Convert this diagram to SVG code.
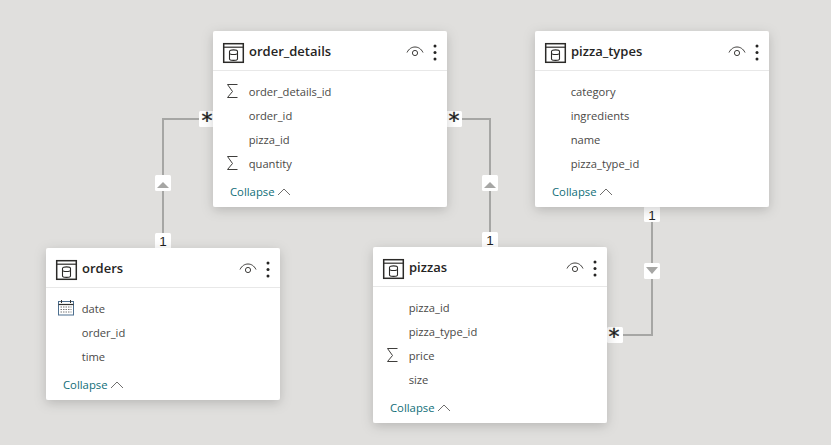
<svg xmlns="http://www.w3.org/2000/svg" width="831" height="445" viewBox="0 0 831 445">
<style>
text{font-family:"Open Sans","Noto Sans","Liberation Sans",sans-serif}
.card{fill:#fff;filter:url(#sh)}
.hl{stroke:#e8e8e8;stroke-width:1;fill:none}
.title{font-size:13px;font-weight:600;fill:#252423}
.f{font-size:11.2px;fill:#4a4947}
.col{font-size:11.300px;fill:#0f6e78}
.ln{stroke:#a6a6a4;stroke-width:2;fill:none}
.bx{fill:#fff}
.one{font-family:"Liberation Sans",sans-serif;font-size:13.500px;fill:#1f1f1f;text-anchor:middle}
.star{font-family:"DejaVu Sans",sans-serif;font-size:22px;fill:#1f1f1f;stroke:#1f1f1f;stroke-width:0.400;text-anchor:middle}
.ic{fill:none;stroke:#2b2a28;stroke-width:1.500}
.ic2{fill:none;stroke:#3f3e3c;stroke-width:1}
.tri{fill:#a6a6a4}
</style>
<defs>
<filter id="sh" x="-15%" y="-15%" width="130%" height="135%"><feDropShadow dx="0" dy="3" stdDeviation="6" flood-color="#000" flood-opacity="0.18"/></filter>
<g id="tbl"><rect class="ic" x="0.700" y="0.700" width="19.600" height="18.600"/><path class="ic" d="M0.700 4.200H20.300" style="stroke-width:1.200"/><path class="ic" style="stroke-width:1.100" d="M6.500 8.500a4 1.600 0 0 1 8 0v7.500a4 1.400 0 0 1-8 0zM6.500 10a4 1.500 0 0 0 8 0"/></g>
<g id="eye"><path class="ic2" d="M0 7.500C2 3.500 5 2 8 2s6 1.500 8 5.500"/><circle class="ic2" cx="8" cy="8" r="2.600"/></g>
<g id="dots"><circle cx="0" cy="0" r="1.500" fill="#252423"/><circle cx="0" cy="6.500" r="1.500" fill="#252423"/><circle cx="0" cy="13" r="1.500" fill="#252423"/></g>
<path id="sig" class="ic2" d="M10.500 0.500H0.500L5.500 7.500L0.500 13.500H10.500"/>
<path id="chev" d="M0 7L6 1L12 7" fill="none" stroke="#5f5e5c" stroke-width="0.900"/>
<g id="cal"><rect x="0.500" y="1.500" width="15" height="13.500" fill="none" stroke="#4d6f8f"/><path d="M0.500 4.500H15.500" stroke="#33322f" stroke-width="1.200"/><path d="M3.500 0V3M12.500 0V3" stroke="#33322f"/><path d="M2.500 7H13.500M2.500 9.500H13.500M2.500 12H13.500" stroke="#777" stroke-dasharray="1.500 1"/></g>
</defs>
<rect width="831" height="445" fill="#e0dfdd"/>
<g id="connectors">
<path class="ln" d="M200 119H163V236"/>
<path class="ln" d="M460 119H490V236"/>
<path class="ln" d="M652 220V335H621"/>
<rect class="bx" x="155" y="175" width="16" height="16" rx="1.500"/><path class="tri" d="M157 188L163 182L169 188Z"/>
<rect class="bx" x="482" y="175" width="16" height="16" rx="1.500"/><path class="tri" d="M484 188L490 182L496 188Z"/>
<rect class="bx" x="644" y="263" width="16" height="16" rx="1.500"/><path class="tri" d="M646 267H658L652 274Z"/>
<rect class="bx" x="199" y="111" width="16" height="16" rx="1.500"/><text class="star" x="207" y="128">*</text>
<rect class="bx" x="446" y="111" width="16" height="16" rx="1.500"/><text class="star" x="454" y="128">*</text>
<rect class="bx" x="607" y="327" width="16" height="16" rx="1.500"/><text class="star" x="614" y="344">*</text>
<rect class="bx" x="155" y="233" width="16" height="16" rx="1.500"/><text class="one" x="163" y="245.500">1</text>
<rect class="bx" x="482" y="232" width="16" height="16" rx="1.500"/><text class="one" x="490" y="245">1</text>
<rect class="bx" x="644" y="206" width="16" height="16" rx="1.500"/><text class="one" x="652" y="219.500">1</text>
</g>
<g id="order_details">
<rect class="card" x="213" y="31" width="234" height="176" rx="2"/><path class="hl" d="M213 70.500H447"/>
<use href="#tbl" x="223" y="43"/><text class="title" x="249" y="56">order_details</text>
<use href="#eye" x="407" y="45"/><use href="#dots" x="435" y="46"/>
<use href="#sig" x="227" y="84"/><text class="f" x="248.700" y="96">order_details_id</text>
<text class="f" x="248.700" y="120">order_id</text><text class="f" x="248.700" y="144">pizza_id</text>
<use href="#sig" x="227" y="156"/><text class="f" x="248.700" y="168">quantity</text>
<text class="col" x="230" y="196">Collapse</text><use href="#chev" x="278" y="188"/>
</g>
<g id="pizza_types">
<rect class="card" x="535" y="31" width="234" height="176" rx="2"/><path class="hl" d="M535 70.500H769"/>
<use href="#tbl" x="545" y="43"/><text class="title" x="571" y="56">pizza_types</text>
<use href="#eye" x="729" y="45"/><use href="#dots" x="757" y="46"/>
<text class="f" x="570.700" y="96">category</text><text class="f" x="570.700" y="120">ingredients</text>
<text class="f" x="570.700" y="144">name</text><text class="f" x="570.700" y="168">pizza_type_id</text>
<text class="col" x="552" y="196">Collapse</text><use href="#chev" x="600" y="188"/>
</g>
<g id="orders">
<rect class="card" x="46" y="248" width="234" height="152" rx="2"/><path class="hl" d="M46 287.500H280"/>
<use href="#tbl" x="56" y="260"/><text class="title" x="82" y="273">orders</text>
<use href="#eye" x="240" y="262"/><use href="#dots" x="268" y="263"/>
<use href="#cal" x="58" y="300"/><text class="f" x="81.700" y="313">date</text>
<text class="f" x="81.700" y="337">order_id</text><text class="f" x="81.700" y="361">time</text>
<text class="col" x="63" y="389">Collapse</text><use href="#chev" x="111" y="381"/>
</g>
<g id="pizzas">
<rect class="card" x="373" y="247" width="234" height="176" rx="2"/><path class="hl" d="M373 286.500H607"/>
<use href="#tbl" x="383" y="259"/><text class="title" x="409" y="272">pizzas</text>
<use href="#eye" x="567" y="261"/><use href="#dots" x="595" y="262"/>
<text class="f" x="408.700" y="312">pizza_id</text><text class="f" x="408.700" y="336">pizza_type_id</text>
<use href="#sig" x="387" y="348"/><text class="f" x="408.700" y="360">price</text><text class="f" x="408.700" y="384">size</text>
<text class="col" x="390" y="412">Collapse</text><use href="#chev" x="438" y="404"/>
</g>
</svg>
